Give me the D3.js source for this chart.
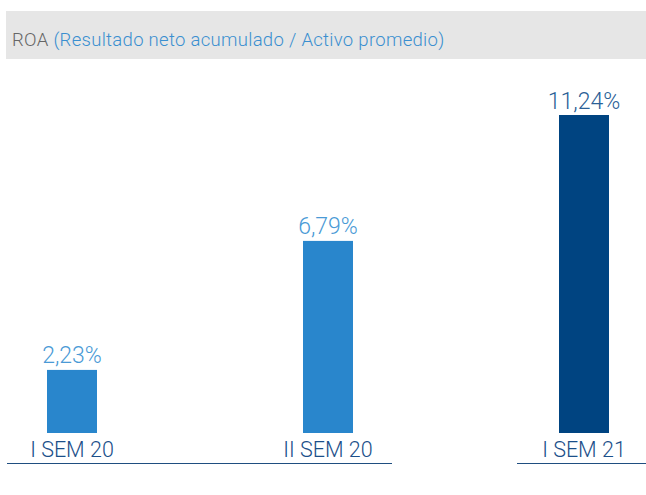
<!DOCTYPE html>
<html>
<head>
<meta charset="utf-8">
<script src="https://cdn.jsdelivr.net/npm/d3@7"></script>
<style>
  body { margin: 0; background: #fff; }
  text { font-family: Roboto, "Open Sans", sans-serif; }
</style>
</head>
<body>
<svg width="646" height="495"></svg>
<script>
const periods = ['I SEM 20', 'II SEM 20', 'I SEM 21'];
const roa = [2.23, 6.79, 11.24];
const valueLabels = ['2,23%', '6,79%', '11,24%'];
const barColors = ['#2986cc', '#2986cc', '#004481'];
const labelColors = ['#4a9ad6', '#4a9ad6', '#2b5f96'];

var svg = d3.select('svg');

// header band
svg.append('rect')
  .attr('x', 6).attr('y', 11)
  .attr('width', 640).attr('height', 48)
  .attr('fill', '#e6e6e6');

const title = svg.append('text')
  .attr('x', 12).attr('y', 46)
  .style('font-size', '18.5px')
  .style('letter-spacing', '0.3px')
  .style('font-weight', 300);
title.append('tspan').attr('fill', '#666').text('ROA ');
title.append('tspan').attr('fill', '#3a8fd0').text('(Resultado neto acumulado / Activo promedio)');

const x = d3.scalePoint()
  .domain(periods)
  .range([72, 584]);

const y = d3.scaleLinear()
  .domain([0, 11.24])
  .range([433, 115]);

const barW = 50;

svg.selectAll('rect.bar')
  .data(roa)
  .enter().append('rect')
  .attr('class', 'bar')
  .attr('x', (d, i) => x(periods[i]) - barW / 2)
  .attr('y', d => y(d))
  .attr('width', barW)
  .attr('height', d => y(0) - y(d))
  .attr('fill', (d, i) => barColors[i]);

svg.selectAll('text.val')
  .data(roa)
  .enter().append('text')
  .attr('class', 'val')
  .attr('x', (d, i) => x(periods[i]))
  .attr('y', d => y(d) - 6.5)
  .attr('text-anchor', 'middle')
  .style('font-size', '23px')
  .style('font-weight', 300)
  .attr('fill', (d, i) => labelColors[i])
  .text((d, i) => valueLabels[i]);

svg.selectAll('text.cat')
  .data(periods)
  .enter().append('text')
  .attr('class', 'cat')
  .attr('x', d => x(d))
  .attr('y', 457)
  .attr('text-anchor', 'middle')
  .style('font-size', '21.5px')
  .style('font-weight', 300)
  .attr('fill', '#1b4f8a')
  .text(d => d);

// baseline segments
svg.append('line')
  .attr('x1', 7).attr('x2', 392)
  .attr('y1', 463.5).attr('y2', 463.5)
  .attr('stroke', '#1f4e80').attr('stroke-width', 1.2);
svg.append('line')
  .attr('x1', 517).attr('x2', 646)
  .attr('y1', 463.5).attr('y2', 463.5)
  .attr('stroke', '#1f4e80').attr('stroke-width', 1.2);
</script>
</body>
</html>
